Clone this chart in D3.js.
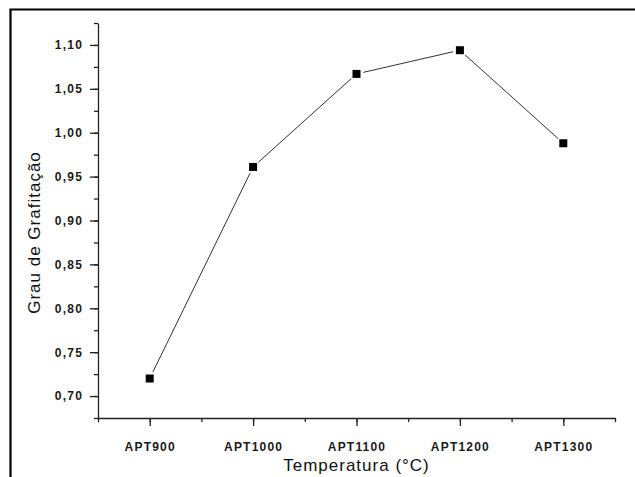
<!DOCTYPE html>
<html>
<head>
<meta charset="utf-8">
<script src="https://cdn.jsdelivr.net/npm/d3@7"></script>
<style>
  body { margin: 0; background: #fff; }
  svg { display: block; }
  .tick text { font-family: "Liberation Sans", Arial, sans-serif; }
</style>
</head>
<body>
<div id="chart"></div>
<script>
// data
var samples = ["APT900", "APT1000", "APT1100", "APT1200", "APT1300"];
var grafitacao = [0.720, 0.961, 1.067, 1.094, 0.988];
var yTicks = [0.70, 0.75, 0.80, 0.85, 0.90, 0.95, 1.00, 1.05, 1.10];

var svgWidth = 635;
var svgHeight = 477;

// plot area inside the svg
var margin = { top: 23, right: 20, bottom: 59, left: 98 };
var width = svgWidth - margin.left - margin.right;
var height = svgHeight - margin.top - margin.bottom;

var svg = d3.select("#chart")
    .append("svg")
    .attr("width", svgWidth)
    .attr("height", svgHeight);

// outer frame (only left and top edges show)
svg.append("path")
    .attr("d", "M10.5,477 V9.5 H635")
    .attr("fill", "none")
    .attr("stroke", "#000")
    .attr("stroke-width", 2.2);

var chartGroup = svg.append("g")
    .attr("transform", `translate(${margin.left}, ${margin.top})`);

// categories sit at 1..5, axis runs from 0.5 to 5.5
var xScale = d3.scaleLinear()
    .domain([0.5, samples.length + 0.5])
    .range([0, width]);

var yScale = d3.scaleLinear()
    .domain([0.675, 1.125])
    .range([height, 0]);

var fmt = function(d) { return d3.format(".2f")(d).replace(".", ","); };

// minor ticks
var xMinor = d3.range(0.5, samples.length + 0.51, 0.5);
var yMinor = d3.range(0.675, 1.126, 0.025);

chartGroup.append("g")
    .attr("transform", `translate(0, ${height})`)
    .call(d3.axisBottom(xScale).tickValues(xMinor).tickSize(4).tickFormat(""))
    .call(g => g.select(".domain").remove());

chartGroup.append("g")
    .call(d3.axisLeft(yScale).tickValues(yMinor).tickSize(4).tickFormat(""))
    .call(g => g.select(".domain").remove());

// major x axis
var xAxis = chartGroup.append("g")
    .attr("transform", `translate(0, ${height})`)
    .call(d3.axisBottom(xScale)
        .tickValues(d3.range(1, samples.length + 1))
        .tickSize(8)
        .tickSizeOuter(0)
        .tickPadding(16)
        .tickFormat(d => samples[d - 1]));

xAxis.selectAll("text")
    .attr("font-size", 12)
    .attr("font-weight", "bold")
    .attr("letter-spacing", "1.2px")
    .attr("fill", "#1a1a1a");

// major y axis
var yAxis = chartGroup.append("g")
    .call(d3.axisLeft(yScale)
        .tickValues(yTicks)
        .tickSize(8)
        .tickSizeOuter(0)
        .tickPadding(7)
        .tickFormat(fmt));

yAxis.selectAll("text")
    .attr("font-size", 12)
    .attr("font-weight", "bold")
    .attr("letter-spacing", "1.2px")
    .attr("fill", "#1a1a1a");

chartGroup.selectAll(".domain, .tick line")
    .attr("stroke", "#222")
    .attr("stroke-width", 1.3);

// line segments with a small gap around markers
var pts = samples.map((s, i) => [xScale(i + 1), yScale(grafitacao[i])]);
var gap = 7;
var segs = d3.pairs(pts).map(function(p) {
    var dx = p[1][0] - p[0][0], dy = p[1][1] - p[0][1];
    var len = Math.sqrt(dx * dx + dy * dy);
    var ux = dx / len, uy = dy / len;
    return [[p[0][0] + ux * gap, p[0][1] + uy * gap],
            [p[1][0] - ux * gap, p[1][1] - uy * gap]];
});

chartGroup.selectAll(".seg")
    .data(segs)
    .enter()
    .append("line")
    .attr("class", "seg")
    .attr("x1", d => d[0][0])
    .attr("y1", d => d[0][1])
    .attr("x2", d => d[1][0])
    .attr("y2", d => d[1][1])
    .attr("stroke", "#333")
    .attr("stroke-width", 1);

// square markers
chartGroup.selectAll(".pt")
    .data(grafitacao)
    .enter()
    .append("rect")
    .attr("class", "pt")
    .attr("x", (d, i) => xScale(i + 1) - 4)
    .attr("y", d => yScale(d) - 4)
    .attr("width", 8)
    .attr("height", 8)
    .attr("fill", "#000");

// axis titles
svg.append("text")
    .attr("x", margin.left + width / 2)
    .attr("y", 471)
    .attr("text-anchor", "middle")
    .attr("font-family", "Liberation Sans, Arial, sans-serif")
    .attr("font-size", 17)
    .attr("letter-spacing", "1px")
    .attr("fill", "#111")
    .text("Temperatura (°C)");

svg.append("text")
    .attr("transform", `translate(40, ${margin.top + height / 2 + 12}) rotate(-90)`)
    .attr("text-anchor", "middle")
    .attr("font-family", "Liberation Sans, Arial, sans-serif")
    .attr("font-size", 17)
    .attr("letter-spacing", "1px")
    .attr("fill", "#111")
    .text("Grau de Grafitação");
</script>
</body>
</html>
